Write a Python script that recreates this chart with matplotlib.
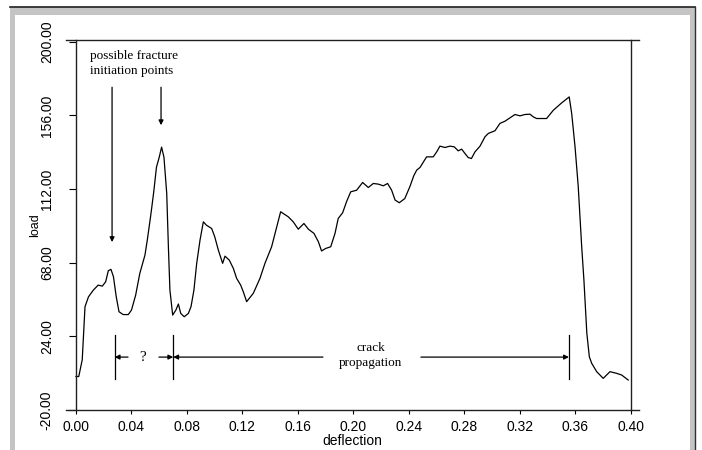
import matplotlib.pyplot as plt
from matplotlib.patches import Rectangle

# load-deflection curve
deflection = [0.000, 0.002, 0.0045, 0.0065, 0.009, 0.0125, 0.016, 0.019, 0.0214, 0.0233,
              0.0252, 0.027, 0.029, 0.031, 0.034, 0.0377, 0.040, 0.043, 0.046, 0.0497,
              0.0514, 0.054, 0.056, 0.058, 0.060, 0.0617, 0.0634, 0.0654, 0.0666, 0.0677,
              0.0697, 0.072, 0.0738, 0.0755, 0.078, 0.081, 0.0829, 0.085, 0.087, 0.0894,
              0.0918, 0.094, 0.0978, 0.100, 0.1026, 0.1057, 0.1074, 0.1105, 0.1134, 0.1158,
              0.1187, 0.1206, 0.123, 0.1278, 0.1326, 0.1362, 0.141, 0.1447, 0.1475, 0.153,
              0.1566, 0.1602, 0.1643, 0.1675, 0.1715, 0.1747, 0.177, 0.180, 0.1836, 0.1867,
              0.189, 0.1922, 0.195, 0.198, 0.2023, 0.2066, 0.2107, 0.2143, 0.218, 0.2215,
              0.2246, 0.2275, 0.230, 0.233, 0.237, 0.2407, 0.2435, 0.2456, 0.248, 0.2527,
              0.2575, 0.260, 0.2623, 0.266, 0.2695, 0.2726, 0.2755, 0.278, 0.280, 0.2827,
              0.285, 0.2876, 0.2912, 0.2948, 0.2972, 0.302, 0.3056, 0.3092, 0.3128, 0.3164,
              0.320, 0.3236, 0.3272, 0.3296, 0.332, 0.3392, 0.344, 0.350, 0.3555, 0.3573,
              0.3597, 0.362, 0.3645, 0.3661, 0.3682, 0.370, 0.3717, 0.3753, 0.380, 0.3849,
              0.3897, 0.3933, 0.398]
load = [0, 0, 10, 41.7, 47.6, 51.6, 54.6, 54, 56.6, 63.2,
        64, 59.6, 47.7, 38.7, 37, 37, 39.7, 48.6, 61.6, 72.5,
        81.5, 97, 110, 125, 131, 137, 131, 109.4, 77.5, 51.6,
        36.7, 39.7, 43.3, 37.7, 35.7, 37.7, 41.7, 51.6, 67.6, 81.5,
        92.4, 90.4, 88.4, 83.5, 75.5, 67.6, 71.9, 69.5, 64.6, 58.6,
        54.6, 50.6, 44.7, 49.7, 58.6, 67.6, 77.5, 89.4, 98.4, 95.4,
        92.4, 88, 91.4, 88, 85.5, 80.5, 75, 76.5, 77.5, 85.5,
        94.4, 97.8, 104.4, 110.3, 111.3, 115.9, 112.9, 115.3, 114.9, 113.9,
        115.3, 111.3, 105.4, 103.8, 106.3, 113.5, 120, 123.3, 124.9, 131.2,
        131.2, 134.2, 137.6, 136.8, 137.6, 137.2, 134.8, 135.8, 133.6, 130.8,
        130.2, 134.2, 137.6, 143.2, 145.2, 146.8, 151.2, 152.5, 154.5, 156.5,
        155.7, 156.5, 156.7, 155.1, 154.1, 154.1, 159, 163.4, 167, 157,
        137.2, 113.5, 77.5, 57.6, 25.8, 11.8, 7.9, 2.9, -1.1, 2.9,
        1.9, 0.9, -2.1]

x_ticks = [0.00, 0.04, 0.08, 0.12, 0.16, 0.20, 0.24, 0.28, 0.32, 0.36, 0.40]
y_ticks = [-20, 24, 68, 112, 156, 200]

# annotation positions (data units)
init_arrows = [(0.026, 172.8, 80.3), (0.0613, 172.8, 150.1)]  # x, y_from, y_to
bracket_x = [0.0279, 0.0701, 0.3553]
bracket_y = (-1.6, 24.8)
arrow_y = 11.6

fig = plt.figure(figsize=(7.02, 4.5), dpi=100)

# stippled grey frame around the picture
W, H = 702, 450
frame_col = '#c4c4c4'
for x0, y0, w, h in [(10, H - 15, 685, 8), (10, 0, 5, H - 7), (690, 0, 5, H - 7)]:
    fig.patches.append(Rectangle((x0 / W, y0 / H), w / W, h / H, transform=fig.transFigure,
                                 facecolor=frame_col, edgecolor='none'))
fig.add_artist(plt.Line2D([10 / W, 695 / W], [(H - 7) / H] * 2, color='#202020', lw=1.2))
fig.add_artist(plt.Line2D([695 / W] * 2, [0, (H - 7) / H], color='#303030', lw=1.0))

ax = fig.add_axes([66 / W, 40 / H, (639 - 66) / W, (410 - 40) / H])
ax.plot(deflection, load, color='black', lw=0.9)

ax.set_xlim(-0.0072, 0.4058)
ax.set_ylim(-20, 201)
ax.spines['left'].set_position(('data', 0))
ax.spines['right'].set_position(('data', 0.40))
for s in ax.spines.values():
    s.set_linewidth(1.0)
    s.set_color('#202020')

ax.set_xticks(x_ticks)
ax.set_xticklabels([f'{v:.2f}' for v in x_ticks])
ax.set_yticks(y_ticks)
ax.set_yticklabels([f'{v:.2f}' for v in y_ticks], rotation=90, va='center')
ax.tick_params(axis='x', direction='out', length=3, pad=4, labelsize=10)
ax.tick_params(axis='y', direction='out', length=5, pad=11, labelsize=10)
for lab in ax.get_xticklabels() + ax.get_yticklabels():
    lab.set_family('Liberation Sans')
ax.set_xlabel('deflection', family='Liberation Sans', fontsize=10, labelpad=0)
ax.set_ylabel('load', family='Liberation Sans', fontsize=9, labelpad=-1)

serif = dict(family='Liberation Serif', fontsize=9.5)
ax.text(0.0099, 195, 'possible fracture\ninitiation points', va='top', ha='left',
        linespacing=1.3, **serif)

arrow = dict(arrowstyle='-|>', mutation_scale=7, lw=0.9, color='black', shrinkA=0, shrinkB=0)
for xa, y0, y1 in init_arrows:
    ax.annotate('', xy=(xa, y1), xytext=(xa, y0), arrowprops=arrow)

for xb in bracket_x:
    ax.plot([xb, xb], bracket_y, color='black', lw=0.9)

ax.annotate('', xy=(bracket_x[0], arrow_y), xytext=(0.0375, arrow_y), arrowprops=arrow)
ax.annotate('', xy=(bracket_x[1], arrow_y), xytext=(0.0598, arrow_y), arrowprops=arrow)
ax.annotate('', xy=(bracket_x[1], arrow_y), xytext=(0.178, arrow_y), arrowprops=arrow)
ax.annotate('', xy=(bracket_x[2], arrow_y), xytext=(0.2486, arrow_y), arrowprops=arrow)
ax.text(0.0483, arrow_y, '?', ha='center', va='center', family='Liberation Serif', fontsize=11)
ax.text(0.2125, arrow_y + 1, 'crack\npropagation', ha='center', va='center',
        linespacing=1.3, **serif)

fig.savefig('out.png', dpi=100)
